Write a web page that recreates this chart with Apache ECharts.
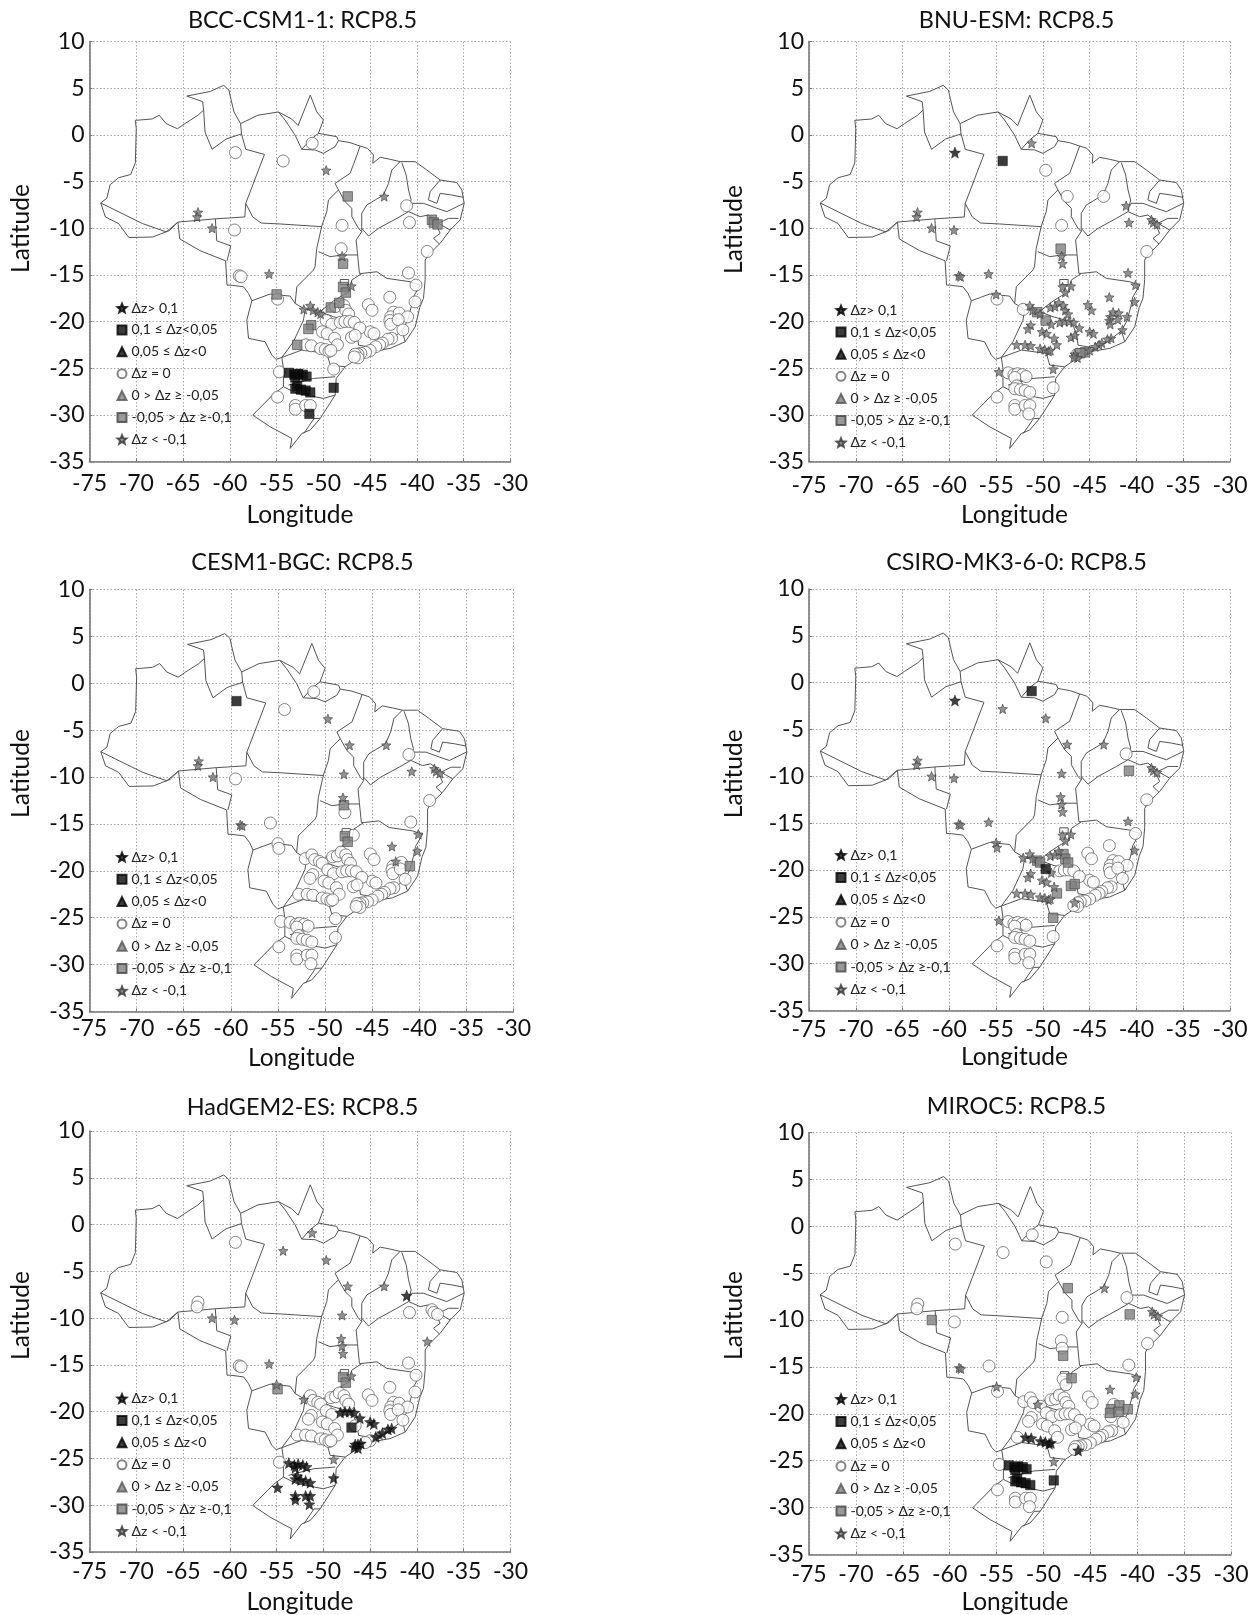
<!DOCTYPE html>
<html><head><meta charset="utf-8">
<style>html,body{margin:0;padding:0;background:#fff}#c{width:1257px;height:1615px}</style>
<script src="https://cdn.jsdelivr.net/npm/echarts@6/dist/echarts.min.js"></script>
</head><body><div id="c"></div>
<script>
const modelNames = ["BCC-CSM1-1: RCP8.5","BNU-ESM: RCP8.5","CESM1-BGC: RCP8.5","CSIRO-MK3-6-0: RCP8.5","HadGEM2-ES: RCP8.5","MIROC5: RCP8.5"];
const categoryNames = ["Δz> 0,1","0,1 ≤ Δz<0,05","0,05 ≤ Δz<0","Δz = 0","0 > Δz ≥ -0,05","-0,05 > Δz ≥-0,1","Δz < -0,1"];
const categoryCodes = ["K","B","T","o","t","S","s"];
const lonTicks = [-75,-30];
const latTicks = [-35,10];

const stationLon = [-59.4,-54.3,-51.2,-49.7,-47.4,-43.5,-41.1,-40.8,-38.4,-38.2,
-37.8,-38.9,-63.4,-63.5,-61.9,-59.5,-59.0,-58.8,-55.8,-55.0,
-54.9,-48.0,-48.1,-48.0,-47.9,-40.9,-40.1,-47.9,-47.6,-47.0,
-42.9,-40.2,-45.2,-44.8,-42.5,-42.8,-42.9,-42.8,-41.9,-41.0,
-42.0,-41.5,-45.0,-44.6,-42.7,-43.1,-43.7,-44.0,-44.4,-45.0,
-45.5,-46.0,-46.3,-46.6,-46.3,-46.7,-52.1,-51.4,-51.1,-50.6,
-50.3,-49.7,-49.2,-48.7,-48.3,-47.8,-47.6,-47.3,-49.1,-48.2,
-47.7,-47.2,-46.7,-46.1,-47.0,-46.6,-51.3,-51.6,-50.1,-49.6,
-48.8,-48.5,-52.8,-51.9,-51.3,-50.3,-49.8,-49.4,-49.2,-48.9,
-54.7,-53.7,-53.1,-52.7,-52.2,-51.8,-53.0,-52.8,-53.0,-52.4,
-51.9,-51.4,-48.9,-54.9,-53.0,-53.0,-51.9,-51.4,-51.5];
const stationLat = [-1.9,-2.8,-0.9,-3.8,-6.6,-6.6,-7.6,-9.4,-9.1,-9.4,
-9.6,-12.5,-8.3,-8.8,-10.0,-10.2,-15.1,-15.2,-14.9,-17.1,
-17.6,-9.7,-12.2,-13.0,-13.8,-14.8,-16.1,-16.3,-16.9,-16.2,
-17.4,-17.9,-18.2,-18.8,-19.0,-19.5,-19.9,-20.3,-19.1,-19.5,
-19.8,-20.9,-21.1,-21.3,-21.8,-21.9,-22.3,-22.5,-22.7,-23.1,
-23.3,-23.4,-23.5,-23.5,-23.9,-23.8,-18.7,-18.3,-18.8,-19.0,
-19.2,-19.9,-18.5,-18.4,-18.0,-18.3,-18.8,-19.2,-20.3,-20.1,
-20.0,-20.0,-20.1,-20.7,-21.7,-21.5,-20.4,-20.8,-21.1,-21.3,
-21.8,-22.5,-22.5,-22.5,-22.6,-22.9,-23.0,-23.2,-23.1,-25.1,
-25.4,-25.5,-25.7,-25.6,-25.7,-25.9,-26.0,-26.9,-27.2,-27.3,
-27.4,-27.6,-27.1,-28.1,-29.0,-29.4,-29.0,-29.0,-29.9];

const codesBCC = "ooosSsooSS SosssooosS ooosSooSSs oooooooooo oooooooooo oooooossss soSoSooooo ooooooSSoo ooSooooooo oBBBBBBBBB BBBoooooB";
const codesBNU = "KBsooossss sossssssss ooSsssssss ssssssssss ssssssssss SSosssossS sSssssssss ssssssssss ssssssssss sooooooooo ooooooooo";
const codesCESM = "Boosssosss sosssossoo ossSoosSSo ssoosooooS oooooooooo oooooooooo oooooooooo oooooooooo oooooooooo oooooooooo ooooooooo";
const codesCSIRO = "KsBsssoSss sossssssss ssssssosss osoooooooo oooooooooo ooosoosssS SBsssSSSso ooooSSssss sSsssssssS sooooooooo ooooooooo";
const codesHad = "osssssKooo osoossooss SssssooSSs oooooooooo ooKKKKKsKo oKKKKKsooo oooooooooK KKKKBooooo ooooooooos oKKKKKKKKK KKKKKKKKK";
const codesMIROC = "ooooSsoSss soooSossos ooooSosooS ssoooSSoSS Sooooooooo ooooKoooos oooooooooo oooooooooo oooKKKKKKs oBBBBBBBBB BBBoooooo";
const modelCodes = [codesBCC,codesBNU,codesCESM,codesCSIRO,codesHad,codesMIROC];

const coast = [[-73.8,-7.3],[-73.15,-6.8],[-72.8,-5.35],[-71.9,-4.6],[-70.6,-4.25],[-70.1,-3],[-70,0.65],[-70.1,1.55],[-68.3,1.7],[-67.55,2.1],[-66.8,1.2],[-65.6,0.65],[-64.8,1.2],[-63.4,2.1],[-62.8,2.65],[-62.9,3.55],[-64.6,4.15],[-62.1,4.65],[-60.65,5.3],[-60.1,4.8],[-59.9,3.9],[-59.55,2.45],[-58.85,1.2],[-57,2.1],[-54.8,2.45],[-53.4,1.7],[-52.7,1],[-51.4,4.25],[-50.7,2.45],[-50,1.59],[-50.53,0.16],[-51.42,-0.55],[-52.31,-1.55],[-50.89,-1.62],[-50,-1.98],[-48.75,-1.27],[-48.39,-0.62],[-47.14,-0.84],[-46.07,-1.2],[-45.29,-1.45],[-44.65,-2.16],[-44.72,-3.05],[-43.93,-2.41],[-42.87,-2.62],[-41.8,-2.87],[-40.19,-2.87],[-38.94,-3.77],[-37.52,-4.84],[-35.73,-5.12],[-35.2,-5.91],[-34.95,-7.34],[-35.38,-9.12],[-36.45,-10.2],[-37.52,-11.62],[-38.77,-12.87],[-39.12,-13.41],[-39.12,-15.5],[-39.3,-17.5],[-39.7,-18.5],[-40.18,-20.56],[-41.25,-22.17],[-42.86,-22.88],[-45,-23.24],[-46.6,-24.13],[-47.67,-24.85],[-48.63,-26.1],[-48.74,-27.88],[-50.34,-30.38],[-51.41,-31.63],[-52.3,-31.99],[-53.55,-33.6],[-53.37,-32.53],[-55.69,-31.28],[-57.55,-30.03],[-55.34,-27.78],[-54.27,-26.99],[-54.27,-25.03],[-54.44,-23.85],[-55.05,-24.06],[-55.51,-23.6],[-56.23,-22.17],[-58,-21.81],[-58.19,-19.85],[-57.65,-17.78],[-58,-17],[-58.54,-16.28],[-59.97,-16.1],[-60.3,-16.1],[-60.45,-13.5],[-63.2,-12.4],[-65.35,-11.15],[-65.55,-9.35],[-66.45,-10.25],[-68.25,-10.95],[-70.8,-11],[-71.9,-9.5],[-73.3,-8.8],[-73.8,-7.3]];
const borders = [coast,
[[-50.53,0.16],[-48.57,-0.2],[-48.39,-0.62]],
[[-54.8,2.45],[-54.1,1.59],[-53.03,-0.02],[-52.31,-1.55]],
[[-62.8,2.65],[-62.65,0.3],[-61.9,-1.55],[-60.4,-0.45],[-58.75,0.1],[-58.85,1.2]],
[[-58.75,0.1],[-58.3,-1.55],[-56.3,-2.1],[-58.3,-7.35],[-58.4,-8.8],[-61.55,-9],[-65.55,-9.35]],
[[-73.8,-7.3],[-69.35,-9.5],[-66.8,-10.4],[-65.55,-9.35]],
[[-61.55,-9],[-61.4,-11.35],[-59.9,-11.9],[-60.3,-13.5]],
[[-58.3,-7.35],[-57.55,-8.8],[-56.65,-9.45],[-54.63,-9.55],[-50.17,-9.84]],
[[-46.07,-1.2],[-46.61,-2.7],[-47.14,-4.12],[-48.75,-5.2],[-48.39,-5.91],[-49.46,-6.98],[-49.64,-8.23],[-50.17,-9.77],[-50.71,-12.16],[-50.89,-14.12],[-51.06,-14.49],[-52.84,-16.28],[-53.02,-18.06]],
[[-48.39,-5.91],[-47.68,-7.16],[-46.96,-7.87],[-46.96,-8.77],[-46.25,-10.02],[-45.9,-10.37],[-46.5,-11.27],[-46.36,-12.7],[-46.15,-14.84]],
[[-41.8,-2.87],[-42.69,-3.77],[-43.04,-5.2],[-43.58,-6.45],[-45.36,-7.52],[-45.9,-8.41],[-45.9,-10.37]],
[[-45.9,-10.02],[-45.18,-10.84],[-44.11,-10.02],[-42.15,-8.95],[-40.9,-8.23]],
[[-41.62,-2.98],[-41.15,-4.3],[-40.9,-5.91],[-40.62,-6.98],[-40.9,-8.23]],
[[-40.62,-7.34],[-39.3,-7.34],[-37.87,-7.87],[-36.8,-8.23],[-35,-7.34]],
[[-37.52,-4.84],[-38.59,-6.09],[-38.77,-6.98],[-37.87,-7.34],[-37.52,-6.27],[-36.27,-6.45],[-35.02,-6.7]],
[[-40.9,-8.23],[-39.66,-8.77],[-38.77,-8.59],[-37.7,-9.48],[-36.63,-8.95],[-35.56,-8.95]],
[[-37.7,-9.48],[-36.45,-10.2]],
[[-37.87,-9.77],[-37.52,-10.55],[-38.23,-11.09],[-37.59,-11.7]],
[[-50.53,-12.52],[-49.28,-13.05],[-47.86,-12.87],[-46.36,-12.87]],
[[-57.65,-17.78],[-55.69,-17.06],[-53.55,-17.28],[-53.02,-18.06]],
[[-53.02,-18.06],[-51.95,-18.7],[-50.35,-18.95],[-49.27,-18.06],[-48.2,-17.35],[-47.21,-16.81],[-46.96,-15.56],[-45.89,-14.85],[-46.15,-14.84]],
[[-45.89,-14.85],[-44.28,-14.67],[-43.21,-15.38],[-40.72,-15.74],[-39.65,-16.1],[-40.4,-17.4],[-40.6,-18.4],[-41,-19.9],[-41.6,-21],[-42.86,-21.99],[-44.28,-22.88],[-46.24,-22.53],[-46.42,-21.28],[-46.96,-20.03],[-48.92,-19.49],[-50.35,-18.95]],
[[-44.28,-22.88],[-45,-23.24]],
[[-41.6,-21],[-41.25,-22.17]],
[[-48.2,-15.5],[-47.3,-15.5],[-47.3,-16.05],[-48.2,-16.05],[-48.2,-15.5]],
[[-51.95,-18.7],[-52.13,-19.85],[-53.2,-22.17],[-54.44,-23.85]],
[[-54.44,-23.85],[-52.3,-23.06],[-49.63,-23.42],[-49.27,-24.67],[-47.67,-24.85]],
[[-53.73,-26.81],[-51.06,-26.1],[-48.74,-25.92]],
[[-54.27,-26.99],[-52.84,-27.7],[-50,-28.24],[-48.74,-27.88]],
[[-52.1,-32],[-51,-30.4],[-50.34,-30.38]]
];

const STAR = 'path://M12 0.5 L15.2 8.5 L23.8 9.2 L17.2 14.8 L19.3 23.2 L12 18.6 L4.7 23.2 L6.8 14.8 L0.2 9.2 L8.8 8.5 Z';
const FONT = 'Lato';
const rects = [[89.5,41.5,421,420],[809,41.5,421,420],[89.5,589.5,424,422],[809,589,421,421.5],[89.5,1131,421,421],[809,1132.5,422,422]];
const titleCenters = [297.5,1011.5,297.5,1011.5,297.5,1011.5];
const titleTops = [4,4,546,546,1091,1090];
const legendAt = [[116.5,301],[835.5,303],[116.5,850],[835.5,848],[116.5,1391.5],[835.5,1392]];
const legendGap = [7.9,8.1,8.3,8.4,8.1,8.4];
const lonLabelMargin = [11,12.5,6,8,8.5,8.5];
const latLabelPad = [17,18,3,4,9,6];
const lonNameGap = [41,41.5,34,34.5,37.5,35];
const latNameGap = [56,62,56,62,56,62];
const latNameShift = [23,22,27,26,26,28];
const lonNameShift = [0,5,0,5,0,5];
const styles = {
  K:{symbol:STAR,size:11,z:7,itemStyle:{color:'#111',borderColor:'#000',borderWidth:0.5}},
  B:{symbol:'rect',size:9.5,z:6,itemStyle:{color:'#0a0a0a',borderColor:'#000',borderWidth:0.5}},
  T:{symbol:'triangle',size:10,z:6,itemStyle:{color:'#0a0a0a',borderColor:'#000',borderWidth:0.5}},
  o:{symbol:'circle',size:12,z:3,itemStyle:{color:'#fff',borderColor:'#666',borderWidth:1}},
  t:{symbol:'triangle',size:10,z:4,itemStyle:{color:'#808080',borderColor:'#555',borderWidth:0.8}},
  S:{symbol:'rect',size:9.5,z:4,itemStyle:{color:'#808080',borderColor:'#444',borderWidth:0.8}},
  s:{symbol:STAR,size:9.5,z:5,itemStyle:{color:'#777',borderColor:'#333',borderWidth:0.7}}
};

const grid=[],xAxis=[],yAxis=[],title=[],legend=[],series=[];
modelNames.forEach((name,p)=>{
  const r=rects[p];
  grid.push({left:r[0],top:r[1],width:r[2],height:r[3],containLabel:false,outerBoundsMode:'none'});
  title.push({text:name,left:titleCenters[p],top:titleTops[p],textAlign:'center',textStyle:{fontFamily:FONT,fontSize:23.4,fontWeight:'normal',color:'#111'}});
  const axisCommon={type:'value',interval:5,axisLine:{show:true,onZero:false,lineStyle:{color:'#777',width:1.6}},axisTick:{show:true,inside:true,length:3,lineStyle:{color:'#777'}},
    splitLine:{show:true,lineStyle:{type:[1.5,2],color:'#a8a8a8',width:1}},nameLocation:'middle'};
  xAxis.push(Object.assign({},axisCommon,{gridIndex:p,min:lonTicks[0],max:lonTicks[1],name:'Longitude',nameGap:lonNameGap[p],
    nameTextStyle:{fontFamily:FONT,fontSize:24.5,color:'#111',padding:[0,2*lonNameShift[p],0,0]},
    axisLabel:{fontFamily:FONT,fontSize:23,color:'#111',margin:lonLabelMargin[p]}}));
  yAxis.push(Object.assign({},axisCommon,{gridIndex:p,min:latTicks[0],max:latTicks[1],name:'Latitude',nameGap:latNameGap[p],
    nameTextStyle:{fontFamily:FONT,fontSize:24.5,color:'#111',padding:[0,0,0,2*latNameShift[p]]},
    axisLabel:{fontFamily:FONT,fontSize:23,color:'#111',margin:5,padding:[latLabelPad[p],0,0,0]}}));
  legend.push({orient:'vertical',left:legendAt[p][0],top:legendAt[p][1],padding:0,selectedMode:false,itemWidth:9,itemHeight:9,itemGap:legendGap[p],
    textStyle:{fontFamily:FONT,fontSize:14,color:'#222',lineHeight:14},
    data:categoryNames.map((n,i)=>({name:n,icon:styles[categoryCodes[i]].symbol}))});
  borders.forEach(b=>series.push({type:'line',xAxisIndex:p,yAxisIndex:p,data:b,showSymbol:false,silent:true,z:2,animation:false,lineStyle:{color:'#555',width:1}}));
  const codes=modelCodes[p].replace(/ /g,'');
  categoryNames.forEach((n,i)=>{
    const c=categoryCodes[i],st=styles[c],data=[];
    stationLon.forEach((lon,k)=>{ if(codes[k]===c) data.push([lon,stationLat[k]]); });
    series.push({type:'scatter',name:n,xAxisIndex:p,yAxisIndex:p,data,symbol:st.symbol,symbolSize:st.size,z:st.z,itemStyle:st.itemStyle,animation:false,silent:true});
  });
});
const chart=echarts.init(document.getElementById('c'),null,{renderer:'canvas'});
chart.setOption({animation:false,backgroundColor:'#fff',tooltip:{show:false},grid,xAxis,yAxis,title,legend,series});
</script></body></html>
